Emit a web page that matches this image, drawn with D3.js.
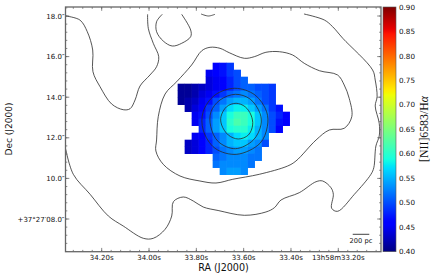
<!DOCTYPE html>
<html>
<head>
<meta charset="utf-8">
<script src="https://cdn.jsdelivr.net/npm/d3@7"></script>
<style>
  html, body { margin: 0; padding: 0; background: #fff; }
  text { font-family: "DejaVu Sans", sans-serif; fill: #111; }
</style>
</head>
<body>
<div id="chart"></div>
<script>
// tick labels
const raTicks = [34.20, 34.00, 33.80, 33.60, 33.40, 33.20];
const raLabels = ["34.20s", "34.00s", "33.80s", "33.60s", "33.40s", "13h58m33.20s"];
const decTicks = [18, 16, 14, 12, 10, 8];
const decLabels = ["18.0\u2033", "16.0\u2033", "14.0\u2033", "12.0\u2033", "10.0\u2033", "+37\u00b027\u203208.0\u2033"];
const cbarTicks = [0.40, 0.45, 0.50, 0.55, 0.60, 0.65, 0.70, 0.75, 0.80, 0.85, 0.90];

// [NII]/Halpha map, one row per declination, top row first
const rowStart = [5, 4, 4, 0, 0, 0, 1, 2, 2, 3, 2, 1, 1, 5, 5, 6];
const ratioRows = [
  [.46, .47, .49],
  [.45, .46, .47, .49, .50],
  [.44, .45, .46, .48, .50, .51],
  [.41, .41, .42, .43, .44, .45, .46, .48, .50, .51, .51, .50, .50, .49],
  [.41, .41, .42, .44, .45, .47, .49, .51, .52, .53, .52, .51, .50, .49],
  [.41, .42, .43, .45, .47, .50, .52, .54, .55, .55, .54, .52, .50, .49],
  [.42, .44, .46, .49, .51, .54, .57, .58, .58, .56, .54, .52, .49, .47],
  [.45, .47, .50, .53, .56, .59, .61, .61, .59, .56, .53, .50, .48, .46],
  [.45, .48, .51, .54, .56, .60, .62, .61, .59, .56, .53, .50, .47, .46],
  [.48, .51, .54, .56, .59, .60, .60, .58, .55, .53, .50, .46],
  [.45, .46, .49, .51, .53, .55, .57, .58, .57, .55, .53],
  [.43, .44, .46, .48, .51, .53, .55, .56, .56, .54, .53, .50],
  [.43, .44, .46, .48, .50, .52, .53, .54, .54, .53, .52],
  [.51, .52, .53, .53, .53, .52, .52],
  [.52, .53, .53, .53, .53, .52],
  [.53, .54, .54, .53]
];
const raStart = 33.879, decStart = 15.70, cellRa = 0.02959, cellDec = 0.3448;

// contours as [RA seconds, Dec arcsec]
const contourA = [[34.352,18.00],[34.292,17.80],[34.261,17.227],[34.238,16.325],[34.237,15.256],[34.207,14.517],[34.158,13.665],[34.109,13.384],[34.080,13.433],[34.059,13.862],[34.038,14.552],[33.996,15.094],[33.968,15.502],[33.959,15.995],[33.982,16.655],[34.003,17.394],[34.006,18.084]];
const contourB = [[33.944,18.084],[33.968,17.719],[33.968,17.227],[33.940,16.768],[33.902,16.522],[33.862,16.655],[33.824,16.980],[33.824,17.310],[33.862,18.084]];
const contourC = [[33.780,18.099],[33.749,18.00],[33.721,18.084]];
const contourD = [[33.968,11.892],[33.961,13.039],[33.932,14.158],[33.883,14.764],[33.820,15.586],[33.777,16.291],[33.742,16.458],[33.700,16.409],[33.661,16.192],[33.597,15.916],[33.555,15.995],[33.506,16.212],[33.449,16.241],[33.393,16.079],[33.344,15.670],[33.280,15.305],[33.203,15.094],[33.175,14.601],[33.154,13.946],[33.143,13.039],[33.175,12.468],[33.238,12.384],[33.294,11.892],[33.379,10.857],[33.414,10.611],[33.534,10.202],[33.646,9.956],[33.717,9.773],[33.785,9.872],[33.869,10.118],[33.940,10.695],[33.971,11.350]];
const contourE = [[34.352,11.433],[34.320,10.202],[34.249,9.217],[34.172,8.148],[34.109,7.655],[34.024,7.049],[33.982,7.049],[33.932,7.493],[33.904,8.148],[33.897,8.852],[33.855,9.084],[33.813,8.887],[33.771,8.591],[33.708,8.419],[33.597,8.182],[33.506,8.345],[33.470,8.557],[33.442,8.936],[33.365,9.296],[33.294,9.837],[33.266,9.872],[33.231,9.542],[33.221,9.217],[33.228,8.527],[33.203,8.379],[33.132,9.217],[33.062,10.202],[33.050,10.527],[33.041,11.596],[33.027,12.089],[33.027,12.714],[33.044,13.567],[33.036,14.025],[33.044,14.847],[33.055,15.340],[33.181,16.901],[33.224,17.473],[33.259,17.803],[33.345,18.099]];
const openContours = [contourA, contourB, contourC, contourE];
const ringInner = [[33.632,13.700],[33.594,13.532],[33.569,13.123],[33.562,12.631],[33.580,12.138],[33.623,11.941],[33.665,12.138],[33.693,12.631],[33.696,13.039],[33.672,13.532]];
const ringMiddle = [[33.635,14.143],[33.573,13.911],[33.531,13.207],[33.527,12.631],[33.559,11.892],[33.635,11.463],[33.707,11.808],[33.739,12.547],[33.738,13.286],[33.700,13.862]];
const ringOuter = [[33.637,14.438],[33.552,14.108],[33.503,13.286],[33.500,12.547],[33.531,11.729],[33.629,11.187],[33.721,11.483],[33.771,12.384],[33.771,13.286],[33.721,14.108]];
const closedContours = [contourD, ringInner, ringMiddle, ringOuter];

const width = 436, height = 276;
const plot = {left: 65.5, right: 381, top: 7, bottom: 251.7};
const bar = {left: 383, right: 396};

const svg = d3.select("#chart").append("svg")
    .attr("width", width)
    .attr("height", height)
    .style("display", "block");

const x = d3.scaleLinear().domain([34.20, 33.20]).range([101.7, 338.3]);
const y = d3.scaleLinear().domain([18, 8]).range([16, 219]);
const cbarY = d3.scaleLinear().domain([0.40, 0.90]).range([plot.bottom, plot.top]);

// matplotlib jet, channel by channel
const jetR = d3.scaleLinear().domain([0, .35, .66, .89, 1]).range([0, 0, 255, 255, 128]).clamp(true);
const jetG = d3.scaleLinear().domain([0, .125, .375, .64, .91, 1]).range([0, 0, 255, 255, 0, 0]).clamp(true);
const jetB = d3.scaleLinear().domain([0, .11, .34, .65, 1]).range([128, 255, 255, 0, 0]).clamp(true);
const norm = d3.scaleLinear().domain([0.40, 0.90]);
function colorFor(v) {
    const t = norm(v);
    return d3.rgb(jetR(t), jetG(t), jetB(t)).formatRgb();
}

const clip = svg.append("clipPath").attr("id", "plot-clip").append("rect")
    .attr("x", plot.left).attr("y", plot.top)
    .attr("width", plot.right - plot.left).attr("height", plot.bottom - plot.top);

// map cells
const cells = [];
ratioRows.forEach((row, r) => row.forEach((v, i) => cells.push({row: r, col: rowStart[r] + i, v: v})));
svg.append("g").selectAll("rect")
    .data(cells)
  .enter().append("rect")
    .attr("x", d => x(raStart - d.col * cellRa))
    .attr("y", d => y(decStart - d.row * cellDec))
    .attr("width", x(raStart - cellRa) - x(raStart) + 0.3)
    .attr("height", y(decStart - cellDec) - y(decStart) + 0.3)
    .attr("fill", d => colorFor(d.v));

// contours
const lineOpen = d3.line().x(d => x(d[0])).y(d => y(d[1])).curve(d3.curveCatmullRom.alpha(0.5));
const lineClosed = d3.line().x(d => x(d[0])).y(d => y(d[1])).curve(d3.curveCatmullRomClosed.alpha(0.5));
const contours = svg.append("g").attr("clip-path", "url(#plot-clip)")
    .attr("fill", "none").attr("stroke", "#2a2a2a").attr("stroke-width", 0.8);
openContours.forEach(c => contours.append("path").attr("d", lineOpen(c)));
closedContours.forEach(c => contours.append("path").attr("d", lineClosed(c)));

// axes: short inward ticks on all four sides
const raMinor = d3.range(34.32, 33.02, -0.04);
const decMinor = d3.range(18.4, 6.3, -0.4);
function tick(x1, y1, x2, y2) {
    svg.append("line").attr("x1", x1).attr("y1", y1).attr("x2", x2).attr("y2", y2)
        .attr("stroke", "#555").attr("stroke-width", 0.7);
}
raMinor.forEach(v => {
    tick(x(v), plot.bottom, x(v), plot.bottom - 1.8);
    tick(x(v), plot.top, x(v), plot.top + 1.8);
});
raTicks.forEach(v => {
    tick(x(v), plot.bottom, x(v), plot.bottom - 3.8);
    tick(x(v), plot.top, x(v), plot.top + 3.8);
});
decMinor.forEach(v => {
    tick(plot.left, y(v), plot.left + 1.8, y(v));
    tick(plot.right, y(v), plot.right - 1.8, y(v));
});
decTicks.forEach(v => {
    tick(plot.left, y(v), plot.left + 3.8, y(v));
    tick(plot.right, y(v), plot.right - 3.8, y(v));
});

svg.append("rect")
    .attr("x", plot.left).attr("y", plot.top)
    .attr("width", plot.right - plot.left).attr("height", plot.bottom - plot.top)
    .attr("fill", "none").attr("stroke", "#666").attr("stroke-width", 1.3);

svg.append("g").selectAll("text")
    .data(raTicks)
  .enter().append("text")
    .attr("x", d => x(d))
    .attr("y", plot.bottom + 7.8)
    .attr("text-anchor", "middle")
    .attr("font-size", 7)
    .text((d, i) => raLabels[i]);

svg.append("g").selectAll("text")
    .data(decTicks)
  .enter().append("text")
    .attr("x", plot.left - 1)
    .attr("y", d => y(d) + 2.6)
    .attr("text-anchor", "end")
    .attr("font-size", 7)
    .text((d, i) => decLabels[i]);

svg.append("text")
    .attr("x", 223.5).attr("y", 270.5)
    .attr("text-anchor", "middle").attr("font-size", 9.6)
    .text("RA (J2000)");

svg.append("text")
    .attr("transform", "translate(12," + 129 + ") rotate(-90)")
    .attr("text-anchor", "middle").attr("font-size", 9)
    .text("Dec (J2000)");

// colorbar
const stops = d3.range(0, 1.0001, 0.01);
const grad = svg.append("defs").append("linearGradient")
    .attr("id", "jet").attr("x1", 0).attr("y1", 1).attr("x2", 0).attr("y2", 0);
stops.forEach(t => {
    grad.append("stop").attr("offset", t)
        .attr("stop-color", d3.rgb(jetR(t), jetG(t), jetB(t)).formatRgb());
});
svg.append("rect")
    .attr("x", bar.left).attr("y", plot.top)
    .attr("width", bar.right - bar.left).attr("height", plot.bottom - plot.top)
    .attr("fill", "url(#jet)")
    .attr("stroke", "#555").attr("stroke-width", 0.6);

svg.append("g").selectAll("text")
    .data(cbarTicks)
  .enter().append("text")
    .attr("x", 399)
    .attr("y", d => cbarY(d) + 2.6)
    .attr("font-size", 7.2)
    .text(d => d.toFixed(2));

const cbarLabel = svg.append("text")
    .attr("transform", "translate(428," + 129 + ") rotate(-90)")
    .attr("text-anchor", "middle")
    .attr("font-size", 11.8)
    .style("font-family", "'Liberation Serif', serif");
cbarLabel.append("tspan").text("[NII]6583/H");
cbarLabel.append("tspan").attr("font-style", "italic").text("\u03b1");

// scale bar
const barRa = [33.139, 33.069], barDec = 7.246;
svg.append("line")
    .attr("x1", x(barRa[0])).attr("x2", x(barRa[1]))
    .attr("y1", y(barDec)).attr("y2", y(barDec))
    .attr("stroke", "#111").attr("stroke-width", 0.8);
svg.append("text")
    .attr("x", (x(barRa[0]) + x(barRa[1])) / 2)
    .attr("y", y(barDec) + 8.3)
    .attr("text-anchor", "middle").attr("font-size", 6.7)
    .text("200 pc");
</script>
</body>
</html>
